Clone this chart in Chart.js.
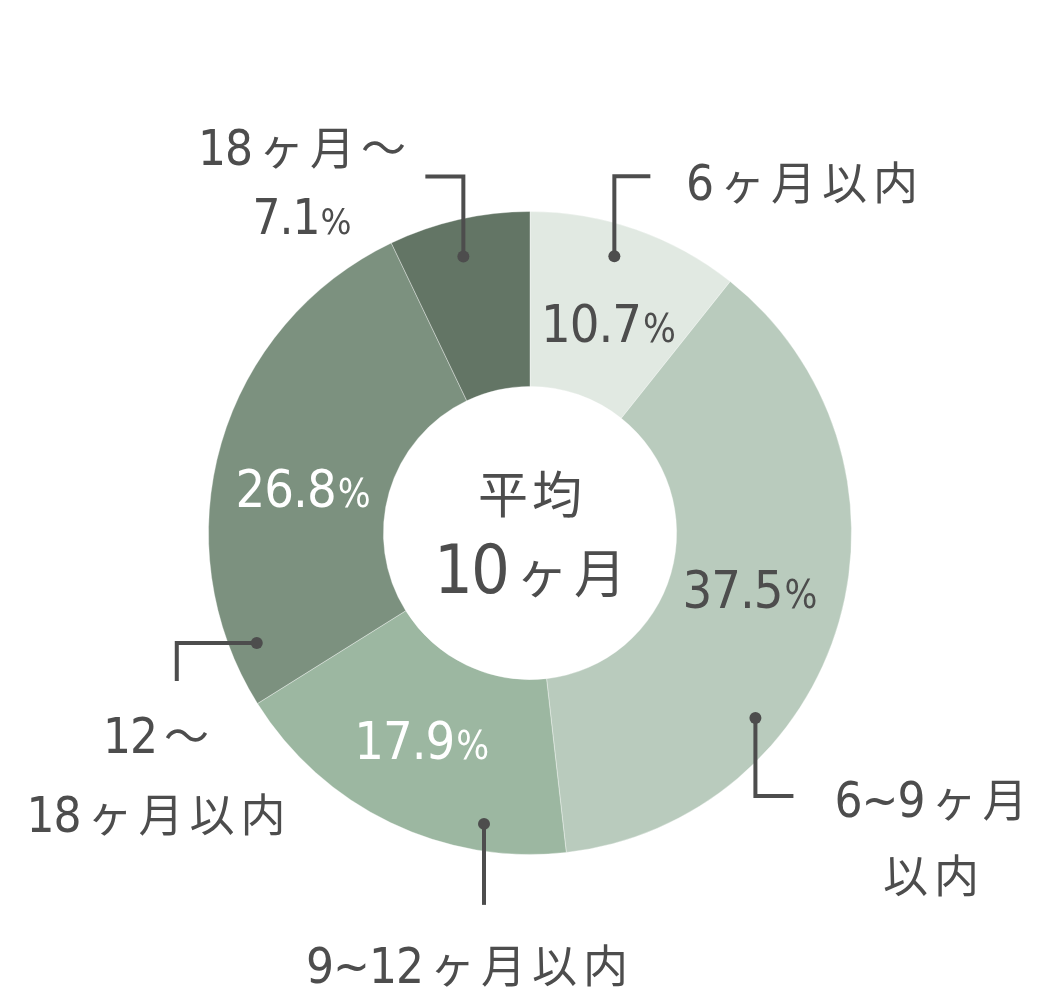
<!DOCTYPE html>
<html><head><meta charset="utf-8">
<script src="https://cdn.jsdelivr.net/npm/chart.js@4.4.1/dist/chart.umd.min.js"></script>
<style>html,body{margin:0;padding:0;background:#fff;}</style>
</head><body>
<canvas id="c" width="1060" height="1000"></canvas>
<script>
// ---- data ----
const categories = ['6ヶ月以内', '6~9ヶ月以内', '9~12ヶ月以内', '12～18ヶ月以内', '18ヶ月～'];
const values = [10.7, 37.5, 17.9, 26.8, 7.1];
const colors = ['#e1e9e2', '#b9cbbd', '#9cb7a1', '#7c917f', '#637565'];
const centerTitle = '平均';
const centerValue = '10ヶ月';

// ---- styles / layout ----
const NUM_FONT = '"Liberation Sans Narrow","DejaVu Sans Condensed","Roboto",sans-serif';
const CJK_FONT = '"Noto Sans CJK JP","Noto Sans",sans-serif';
const TEXT = '#4d4d4d';
const pct = i => values[i].toFixed(1) + '%';

const innerLabels = [
  {i: 0, frac: 0.53, r: 0.70, color: TEXT},
  {i: 1, frac: 0.485, r: 0.705, color: TEXT},
  {i: 2, frac: 0.53, r: 0.725, color: '#ffffff'},
  {i: 3, frac: 0.45, r: 0.72, color: '#ffffff'}
];
const callouts = [
  {i: 0, frac: 0.44, r: 0.90, path: [[0, -80], [36, -80]], lines: ['6ヶ月以内'], x: 802, y: [200]},
  {i: 4, frac: 0.47, r: 0.885, path: [[0, -80], [-38, -80]], lines: ['18ヶ月～', pct(4)], x: 302, y: [165, 234]},
  {i: 1, frac: 0.673, r: 0.907, path: [[0, 78], [38, 78]], lines: ['6~9ヶ月', '以内'], x: 931, y: [817, 893]},
  {i: 2, frac: 0.24, r: 0.916, path: [[0, 81]], lines: ['9~12ヶ月以内'], x: 467, y: [983]},
  {i: 3, frac: 0.105, r: 0.916, path: [[-80, 0], [-80, 38]], lines: ['12～', '18ヶ月以内'], x: 156, y: [753, 832]}
];

function runsOf(text, numSize, cjkSize) {
  const runs = [];
  for (const ch of text) {
    const isNum = /[0-9.~%]/.test(ch);
    const size = isNum ? (ch === '%' ? numSize * 0.74 : numSize) : cjkSize;
    runs.push({ch, isNum, font: `400 ${size}px ${isNum ? NUM_FONT : CJK_FONT}`});
  }
  return runs;
}
function drawText(ctx, text, cx, baseline, o) {
  const runs = runsOf(text, o.num, o.cjk);
  const widths = runs.map(r => { ctx.font = r.font; return ctx.measureText(r.ch).width; });
  const gaps = runs.map((r, k) => k === 0 ? 0 : ((r.isNum && runs[k - 1].isNum) ? (r.ch === '%' ? (o.pctGap || 0) : (o.numGap || 0)) : (o.sp || 0)));
  const total = widths.reduce((a, b) => a + b, 0) + gaps.reduce((a, b) => a + b, 0);
  let x = cx - total / 2;
  ctx.textAlign = 'left';
  ctx.textBaseline = 'alphabetic';
  ctx.fillStyle = o.color || TEXT;
  runs.forEach((r, k) => { x += gaps[k]; ctx.font = r.font; ctx.fillText(r.ch, x, baseline); x += widths[k]; });
}
function arcPoint(arc, frac, rf) {
  const a = arc.startAngle + (arc.endAngle - arc.startAngle) * frac;
  const R = arc.outerRadius * rf;
  return [arc.x + Math.cos(a) * R, arc.y + Math.sin(a) * R];
}

const labelPlugin = {
  id: 'labels',
  afterDatasetsDraw(chart) {
    const ctx = chart.ctx;
    const arcs = chart.getDatasetMeta(0).data;
    ctx.save();
    innerLabels.forEach(l => {
      const [x, y] = arcPoint(arcs[l.i], l.frac, l.r);
      drawText(ctx, pct(l.i), x, y + 20, {num: 52, cjk: 46, color: l.color, pctGap: 1, numGap: -1});
    });
    callouts.forEach(c => {
      const [x, y] = arcPoint(arcs[c.i], c.frac, c.r);
      ctx.strokeStyle = TEXT;
      ctx.lineWidth = 4;
      ctx.lineJoin = 'miter';
      ctx.beginPath();
      ctx.moveTo(x, y);
      c.path.forEach(p => ctx.lineTo(x + p[0], y + p[1]));
      ctx.stroke();
      ctx.fillStyle = TEXT;
      ctx.beginPath();
      ctx.arc(x, y, 6, 0, Math.PI * 2);
      ctx.fill();
      c.lines.forEach((t, k) => drawText(ctx, t, c.x, c.y[k], {num: 49, cjk: 45, sp: 6, color: TEXT, pctGap: 0, numGap: -1}));
    });
    const cx = arcs[0].x, cy = arcs[0].y;
    drawText(ctx, centerTitle, cx, cy - 20, {num: 50, cjk: 50, sp: 4, color: TEXT});
    drawText(ctx, centerValue, cx, cy + 60, {num: 68, cjk: 52, sp: 6, color: TEXT, numGap: -2});
    ctx.restore();
  }
};

new Chart(document.getElementById('c'), {
  type: 'doughnut',
  data: {
    labels: categories,
    datasets: [{
      data: values,
      backgroundColor: colors,
      borderColor: 'rgba(255,255,255,0.35)',
      borderWidth: 1
    }]
  },
  options: {
    responsive: false,
    devicePixelRatio: 1,
    animation: false,
    cutout: '45.6%',
    layout: {padding: {left: 208, right: 208, top: 211, bottom: 145}},
    plugins: {legend: {display: false}, tooltip: {enabled: false}}
  },
  plugins: [labelPlugin]
});
</script>
</body></html>
